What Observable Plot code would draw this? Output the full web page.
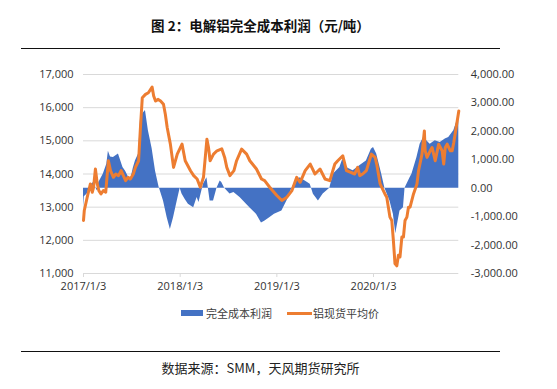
<!DOCTYPE html>
<html>
<head>
<meta charset="utf-8">
<script src="https://cdn.jsdelivr.net/npm/d3@7"></script>
<script src="https://cdn.jsdelivr.net/npm/@observablehq/plot@0.6"></script>
<style>
  body { margin: 0; background: #fff; width: 557px; height: 389px; position: relative; overflow: hidden; font-family: "Noto Sans CJK SC", "Noto Sans", sans-serif; }
  .title { position: absolute; left: 21px; width: 479px; top: 15px; text-align: center; font-weight: bold; font-size: 13.5px; line-height: 20px; color: #111; }
  .rule { position: absolute; left: 21px; width: 479px; height: 1px; background: #111; }
  .caption { position: absolute; left: 21px; width: 479px; top: 358px; text-align: center; font-size: 13px; line-height: 20px; color: #222; }
  #chart { position: absolute; left: 0; top: 50px; }
  .leg { position: absolute; font-size: 11px; line-height: 14px; color: #404040; }
</style>
</head>
<body>
<div class="title">图 2：电解铝完全成本利润（元/吨）</div>
<div class="rule" style="top:48px"></div>
<div id="chart"></div>
<div class="leg" style="left:181px; top:310px; width:22px; height:6px; background:#4472C4"></div>
<div class="leg" style="left:206px; top:306px;">完全成本利润</div>
<div class="leg" style="left:287px; top:312px; width:25px; height:3px; background:#ED7D31"></div>
<div class="leg" style="left:313px; top:306px;">铝现货平均价</div>
<div class="rule" style="top:351px"></div>
<div class="caption">数据来源：SMM，天风期货研究所</div>
<script>
const seriesNames = ["完全成本利润", "铝现货平均价"];

const priceDates = ["2017-01-03","2017-01-06","2017-01-17","2017-01-29","2017-02-05","2017-02-10","2017-02-17","2017-02-24","2017-03-02","2017-03-10","2017-03-19","2017-03-28","2017-04-07","2017-04-15","2017-04-26","2017-05-05","2017-05-15","2017-05-25","2017-06-11","2017-06-20","2017-06-29","2017-07-10","2017-07-18","2017-07-30","2017-08-06","2017-08-13","2017-08-25","2017-09-05","2017-09-19","2017-09-25","2017-10-02","2017-10-12","2017-10-21","2017-11-01","2017-11-08","2017-11-15","2017-11-27","2017-12-09","2017-12-23","2018-01-10","2018-01-22","2018-02-11","2018-02-23","2018-03-08","2018-03-20","2018-04-01","2018-04-14","2018-04-20","2018-04-26","2018-05-09","2018-05-22","2018-06-09","2018-06-20","2018-06-28","2018-07-10","2018-07-25","2018-08-04","2018-08-23","2018-09-11","2018-09-23","2018-10-18","2018-11-06","2018-11-18","2018-12-07","2019-01-03","2019-01-22","2019-02-10","2019-03-01","2019-03-19","2019-04-01","2019-04-20","2019-05-09","2019-05-27","2019-06-15","2019-07-04","2019-07-22","2019-08-10","2019-08-21","2019-09-09","2019-09-23","2019-10-24","2019-11-04","2019-11-12","2019-11-23","2019-12-07","2019-12-26","2020-01-09","2020-01-15","2020-01-28","2020-02-09","2020-02-15","2020-02-22","2020-03-05","2020-03-12","2020-03-18","2020-03-24","2020-03-31","2020-04-06","2020-04-12","2020-04-19","2020-04-25","2020-05-01","2020-05-08","2020-05-14","2020-05-20","2020-06-02","2020-06-15","2020-06-21","2020-07-04","2020-07-13","2020-07-16","2020-07-23","2020-08-04","2020-08-11","2020-08-23","2020-09-05","2020-09-18","2020-09-24","2020-09-30","2020-10-07","2020-10-19","2020-10-26","2020-11-01","2020-11-14","2020-11-20"];
const priceValues = [12600,12900,13300,13700,13450,13600,14150,13700,13500,13400,13500,13450,14400,14100,13900,14000,13950,14100,13800,13900,13850,14000,14200,14400,15400,16300,16400,16450,16620,16350,16200,16250,16200,16100,15800,15400,14900,14200,14600,14900,14400,14100,13950,13850,13600,13900,15050,14800,14400,14600,14700,14760,14500,14200,13950,14100,14400,14750,14600,14400,14150,13850,13800,13600,13350,13200,13300,13500,13900,13750,14100,14300,14000,14150,13850,13800,14300,14400,14550,14100,14000,14200,13950,14000,14100,14600,14500,14300,13700,13500,13400,13300,12700,12600,12000,11300,11230,11550,11500,12100,12100,12600,12700,13000,13000,13400,13700,14100,14600,15300,14700,14500,14700,14800,14400,14900,14700,14300,14800,14900,14700,14700,14950,15600,15900];

const profitDates = ["2017-01-03","2017-01-06","2017-01-17","2017-01-29","2017-02-10","2017-02-24","2017-03-02","2017-03-19","2017-04-01","2017-04-07","2017-04-15","2017-04-26","2017-05-15","2017-06-01","2017-06-11","2017-06-29","2017-07-10","2017-07-18","2017-07-30","2017-08-06","2017-08-13","2017-08-25","2017-09-05","2017-09-19","2017-10-02","2017-10-15","2017-11-01","2017-11-15","2017-11-27","2017-12-09","2017-12-23","2018-01-03","2018-01-10","2018-01-22","2018-02-03","2018-02-23","2018-03-08","2018-03-15","2018-04-01","2018-04-14","2018-04-26","2018-05-09","2018-05-22","2018-06-03","2018-06-09","2018-06-20","2018-07-10","2018-07-25","2018-08-17","2018-09-23","2018-10-18","2018-11-06","2018-11-18","2018-12-07","2018-12-25","2019-01-22","2019-02-10","2019-03-01","2019-03-13","2019-04-01","2019-04-20","2019-05-09","2019-05-21","2019-06-09","2019-06-27","2019-07-22","2019-08-04","2019-08-29","2019-09-09","2019-09-23","2019-10-18","2019-11-12","2019-12-07","2019-12-26","2020-01-03","2020-01-15","2020-02-03","2020-02-15","2020-03-05","2020-03-18","2020-03-27","2020-04-12","2020-04-25","2020-05-01","2020-05-20","2020-05-27","2020-06-15","2020-06-27","2020-07-10","2020-08-04","2020-08-23","2020-09-11","2020-09-30","2020-10-13","2020-11-01","2020-11-14","2020-11-20"];
const profitValues = [-700,-300,-200,100,200,-100,200,500,840,1300,1100,1080,1200,730,600,250,700,960,1200,2400,2600,2730,2020,1400,600,50,-450,-1040,-1450,-1040,-450,0,-200,-400,-560,-690,-330,-500,140,370,-450,-450,0,250,200,0,-200,-150,-330,-690,-920,-1220,-1160,-1040,-920,-800,-450,0,200,370,250,140,-210,-450,-200,0,490,730,1020,730,610,790,960,1370,1430,1200,490,0,-450,-920,-1600,-800,-690,0,370,490,1080,1550,1780,1550,1670,1610,1730,1780,2020,2380,2730];

const leftTicks = [11000,12000,13000,14000,15000,16000,17000];
const rightTicks = [-3000,-2000,-1000,0,1000,2000,3000,4000];
const xTickDates = ["2017-01-03","2018-01-03","2019-01-03","2020-01-03"];
const xTickLabels = ["2017/1/3","2018/1/3","2019/1/3","2020/1/3"];
const xEnd = "2020-11-20";

const L0 = 11000, L1 = 17000, R0 = -3000, R1 = 4000;
const toLeft = v => L0 + (v - R0) * (L1 - L0) / (R1 - R0);
const fromLeft = v => R0 + (v - L0) * (R1 - R0) / (L1 - L0);

const price = priceDates.map((d, i) => ({date: new Date(d), value: priceValues[i]}));
const profit = profitDates.map((d, i) => ({date: new Date(d), value: profitValues[i]}));

const loc = d3.formatLocale({decimal: ".", thousands: ",", grouping: [3], currency: ["", ""], minus: "-"});
const fmtL = loc.format(",.0f");
const fmtR = loc.format(",.2f");
const labelMap = new Map(xTickDates.map((d, i) => [new Date(d).getTime(), xTickLabels[i]]));

const chart = Plot.plot({
  width: 557,
  height: 248,
  marginTop: 24,
  marginBottom: 25,
  marginLeft: 83,
  marginRight: 98.7,
  style: {fontFamily: "'Open Sans','Noto Sans CJK SC',sans-serif", fontSize: "11px", color: "#333", background: "#fff"},
  x: {type: "utc", domain: [new Date(priceDates[0]), new Date(xEnd)]},
  y: {domain: [L0, L1]},
  marks: [
    Plot.gridY(leftTicks.slice(1), {stroke: "#d9d9d9", strokeOpacity: 1, strokeWidth: 1}),
    Plot.areaY(profit, {x: "date", y1: toLeft(0), y2: d => toLeft(d.value), fill: "#4472C4"}),
    Plot.line(price, {x: "date", y: "value", stroke: "#ED7D31", strokeWidth: 3}),
    Plot.ruleY([L0], {stroke: "#d9d9d9", strokeWidth: 1}),
    Plot.axisY(leftTicks, {anchor: "left", tickSize: 0, tickPadding: 10, tickFormat: fmtL, label: null, fill: "#333"}),
    Plot.axisY(rightTicks.map(toLeft), {anchor: "right", tickSize: 0, tickPadding: 12, tickFormat: d => fmtR(Math.round(fromLeft(d))), label: null, fill: "#333"}),
    Plot.axisX(xTickDates.map(d => new Date(d)), {tickSize: 4, tickPadding: 5, stroke: "#d9d9d9", fill: "#333", tickFormat: d => labelMap.get(d.getTime()), label: null})
  ]
});
document.getElementById("chart").appendChild(chart);
</script>
</body>
</html>
